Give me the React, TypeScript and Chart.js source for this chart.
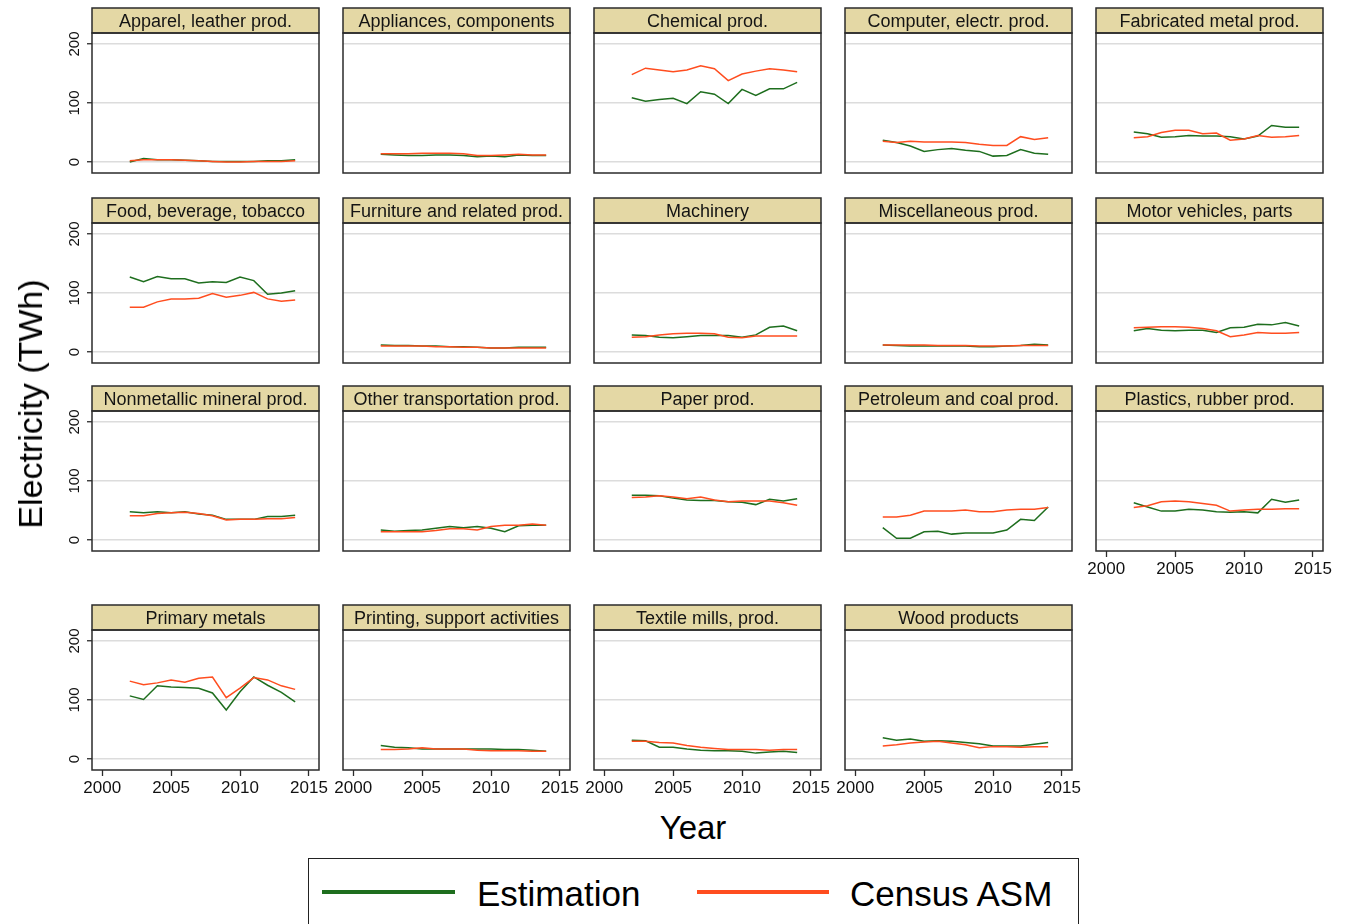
import React, { useEffect, useRef } from "react";
import { Chart, registerables } from "chart.js";

Chart.register(...registerables);

const FONT = '"Liberation Sans", Arial, Helvetica, sans-serif';
Chart.defaults.font.family = FONT;

const GREEN = "#1e6e1e";
const ORANGE = "#ff4d1f";
const STRIP = "#e4d8a5";
const FRAME = "#2b2b2b";

const years = [2002, 2003, 2004, 2005, 2006, 2007, 2008, 2009, 2010, 2011, 2012, 2013, 2014];
const yTicks = [0, 100, 200];
const xTicks = [2000, 2005, 2010, 2015];

// Electricity use by industry, TWh: model estimate vs. Census ASM
const apparelEst = [0, 6, 4, 4, 3, 2, 1, 1, 1, 1, 2, 2, 4];
const apparelAsm = [2, 4, 4, 4, 3, 2, 1, 0, 0, 1, 1, 1, 2];
const appliancesEst = [13, 12, 11, 11, 12, 12, 11, 9, 10, 9, 12, 11, 11];
const appliancesAsm = [14, 14, 14, 15, 15, 15, 14, 11, 11, 12, 13, 12, 12];
const chemicalEst = [109, 103, 106, 108, 99, 119, 115, 99, 123, 113, 124, 124, 135];
const chemicalAsm = [148, 159, 156, 153, 156, 163, 158, 138, 149, 154, 158, 156, 153];
const computerEst = [37, 33, 27, 18, 21, 23, 20, 18, 10, 11, 21, 15, 13];
const computerAsm = [35, 33, 35, 34, 34, 34, 33, 30, 28, 28, 43, 38, 41];
const fabricatedEst = [51, 48, 42, 43, 45, 44, 44, 43, 39, 44, 62, 59, 59];
const fabricatedAsm = [41, 43, 50, 54, 54, 48, 49, 37, 39, 45, 42, 43, 45];
const foodEst = [127, 119, 128, 124, 124, 117, 119, 118, 127, 121, 98, 100, 104];
const foodAsm = [76, 76, 85, 90, 90, 91, 99, 93, 96, 101, 90, 86, 88];
const furnitureEst = [12, 11, 11, 10, 10, 9, 9, 8, 7, 7, 8, 8, 8];
const furnitureAsm = [10, 10, 10, 10, 9, 9, 8, 8, 7, 7, 7, 7, 7];
const machineryEst = [29, 28, 25, 24, 26, 28, 28, 28, 25, 29, 42, 44, 36];
const machineryAsm = [25, 26, 29, 31, 32, 32, 31, 25, 24, 27, 27, 27, 27];
const miscEst = [12, 11, 10, 10, 10, 10, 10, 9, 9, 10, 11, 13, 12];
const miscAsm = [12, 12, 12, 12, 11, 11, 11, 10, 10, 10, 11, 11, 11];
const motorEst = [36, 40, 37, 36, 37, 37, 33, 41, 42, 47, 46, 50, 44];
const motorAsm = [41, 42, 43, 43, 42, 40, 36, 26, 29, 33, 32, 32, 33];
const nonmetallicEst = [48, 46, 48, 46, 48, 44, 42, 35, 35, 35, 40, 40, 42];
const nonmetallicAsm = [41, 41, 45, 46, 47, 45, 41, 34, 35, 35, 36, 36, 38];
const otherTransEst = [17, 15, 16, 17, 20, 23, 21, 23, 20, 14, 24, 25, 25];
const otherTransAsm = [14, 14, 14, 14, 16, 19, 19, 17, 23, 25, 25, 27, 25];
const paperEst = [76, 76, 75, 71, 68, 67, 67, 65, 64, 60, 69, 66, 70];
const paperAsm = [72, 73, 75, 73, 70, 73, 68, 65, 66, 66, 66, 63, 59];
const petroleumEst = [21, 3, 3, 14, 15, 10, 12, 12, 12, 17, 35, 33, 56];
const petroleumAsm = [39, 39, 42, 49, 49, 49, 51, 48, 48, 51, 52, 52, 55];
const plasticsEst = [63, 56, 49, 49, 52, 51, 48, 47, 48, 46, 69, 64, 68];
const plasticsAsm = [55, 58, 65, 66, 65, 62, 59, 49, 51, 52, 52, 53, 53];
const primaryEst = [107, 101, 124, 122, 121, 120, 112, 83, 114, 139, 125, 113, 97];
const primaryAsm = [132, 126, 129, 134, 130, 137, 139, 104, 120, 138, 134, 124, 118];
const printingEst = [23, 20, 19, 17, 17, 17, 17, 17, 17, 16, 16, 15, 13];
const printingAsm = [16, 16, 17, 19, 17, 17, 17, 15, 14, 14, 14, 13, 13];
const textileEst = [32, 31, 20, 20, 17, 15, 14, 14, 13, 10, 12, 13, 11];
const textileAsm = [30, 30, 28, 27, 23, 20, 18, 16, 16, 16, 15, 16, 16];
const woodEst = [36, 32, 34, 30, 31, 30, 28, 26, 22, 22, 22, 25, 28];
const woodAsm = [22, 24, 27, 29, 30, 27, 24, 19, 21, 21, 20, 21, 21];

const panels = [
  { title: "Apparel, leather prod.", est: apparelEst, asm: apparelAsm },
  { title: "Appliances, components", est: appliancesEst, asm: appliancesAsm },
  { title: "Chemical prod.", est: chemicalEst, asm: chemicalAsm },
  { title: "Computer, electr. prod.", est: computerEst, asm: computerAsm },
  { title: "Fabricated metal prod.", est: fabricatedEst, asm: fabricatedAsm },
  { title: "Food, beverage, tobacco", est: foodEst, asm: foodAsm },
  { title: "Furniture and related prod.", est: furnitureEst, asm: furnitureAsm },
  { title: "Machinery", est: machineryEst, asm: machineryAsm },
  { title: "Miscellaneous prod.", est: miscEst, asm: miscAsm },
  { title: "Motor vehicles, parts", est: motorEst, asm: motorAsm },
  { title: "Nonmetallic mineral prod.", est: nonmetallicEst, asm: nonmetallicAsm },
  { title: "Other transportation prod.", est: otherTransEst, asm: otherTransAsm },
  { title: "Paper prod.", est: paperEst, asm: paperAsm },
  { title: "Petroleum and coal prod.", est: petroleumEst, asm: petroleumAsm },
  { title: "Plastics, rubber prod.", est: plasticsEst, asm: plasticsAsm },
  { title: "Primary metals", est: primaryEst, asm: primaryAsm },
  { title: "Printing, support activities", est: printingEst, asm: printingAsm },
  { title: "Textile mills, prod.", est: textileEst, asm: textileAsm },
  { title: "Wood products", est: woodEst, asm: woodAsm },
];

// grid geometry of the small multiples
const COL_LEFT = [92, 343, 594, 845, 1096];
const ROW_TOP = [33, 223, 411, 630];
const BOX_W = 227;
const BOX_H = 140;
const STRIP_H = 25;
const Y_AXIS_W = 45;
const X_AXIS_H = 34;
const PAD_RIGHT = 30;

const panelFrame = {
  id: "panelFrame",
  afterDraw(chart: any, _args: any, opts: any) {
    const { ctx, chartArea: a } = chart;
    const w = a.right - a.left;
    ctx.save();
    ctx.fillStyle = STRIP;
    ctx.fillRect(a.left, a.top - STRIP_H, w, STRIP_H);
    ctx.strokeStyle = FRAME;
    ctx.lineWidth = 1.5;
    ctx.strokeRect(a.left, a.top - STRIP_H, w, STRIP_H);
    ctx.strokeRect(a.left, a.top, w, a.bottom - a.top);
    ctx.fillStyle = "#141414";
    ctx.font = `18px ${FONT}`;
    ctx.textAlign = "center";
    ctx.textBaseline = "alphabetic";
    ctx.fillText(opts.title, (a.left + a.right) / 2, a.top - 6.5);
    ctx.restore();
  },
};

type PanelProps = {
  title: string;
  est: number[];
  asm: number[];
  left: number;
  top: number;
  showY: boolean;
  showX: boolean;
};

function Panel({ title, est, asm, left, top, showY, showX }: PanelProps) {
  const ref = useRef<HTMLCanvasElement>(null);
  const width = Y_AXIS_W + BOX_W + PAD_RIGHT;
  const height = STRIP_H + 1 + BOX_H + X_AXIS_H;

  useEffect(() => {
    const chart = new Chart(ref.current as HTMLCanvasElement, {
      type: "line",
      data: {
        datasets: [
          {
            label: "Census ASM",
            data: years.map((x, i) => ({ x, y: asm[i] })),
            borderColor: ORANGE,
            borderWidth: 1.5,
            pointRadius: 0,
            tension: 0,
          },
          {
            label: "Estimation",
            data: years.map((x, i) => ({ x, y: est[i] })),
            borderColor: GREEN,
            borderWidth: 1.5,
            pointRadius: 0,
            tension: 0,
          },
        ],
      },
      options: {
        animation: false,
        responsive: false,
        events: [],
        layout: { padding: { top: STRIP_H + 1, right: PAD_RIGHT, left: 0, bottom: 0 } },
        plugins: {
          legend: { display: false },
          tooltip: { enabled: false },
          panelFrame: { title },
        } as any,
        scales: {
          x: {
            type: "linear",
            min: 1999.26,
            max: 2015.73,
            afterBuildTicks: (s: any) => {
              s.ticks = xTicks.map((value) => ({ value }));
            },
            afterFit: (s: any) => {
              s.height = X_AXIS_H;
            },
            border: { display: false },
            grid: {
              drawOnChartArea: false,
              drawTicks: showX,
              tickLength: 6,
              tickColor: FRAME,
              tickWidth: 1.3,
            },
            ticks: {
              display: showX,
              autoSkip: false,
              maxRotation: 0,
              padding: 2,
              color: "#111",
              font: { size: 17 },
              callback: (v: any) => String(v),
            },
          },
          y: {
            type: "linear",
            min: -18.6,
            max: 218.6,
            afterBuildTicks: (s: any) => {
              s.ticks = yTicks.map((value) => ({ value }));
            },
            afterFit: (s: any) => {
              s.width = Y_AXIS_W;
            },
            border: { display: false },
            grid: {
              color: "#dcdcdc",
              lineWidth: 1.5,
              drawTicks: showY,
              tickLength: 5,
              tickColor: FRAME,
              tickWidth: 1.3,
            },
            ticks: {
              display: showY,
              minRotation: 90,
              maxRotation: 90,
              crossAlign: "center",
              padding: 0,
              color: "#111",
              font: { size: 15 },
              callback: (v: any) => String(v),
            },
          },
        },
      },
      plugins: [panelFrame as any],
    });
    return () => chart.destroy();
  }, [title, est, asm, showX, showY]);

  return (
    <canvas
      ref={ref}
      width={width}
      height={height}
      style={{
        position: "absolute",
        left: left - Y_AXIS_W,
        top: top - STRIP_H - 1,
        width,
        height,
      }}
    />
  );
}

const textStyle: React.CSSProperties = {
  position: "absolute",
  fontFamily: FONT,
  color: "#000",
  whiteSpace: "nowrap",
  lineHeight: 1,
};

export default function App() {
  return (
    <div
      style={{
        position: "fixed",
        left: 0,
        top: 0,
        width: 1346,
        height: 924,
        overflow: "hidden",
        background: "#fff",
      }}
    >
      {panels.map((p, i) => {
        const row = Math.floor(i / 5);
        const col = i % 5;
        return (
          <Panel
            key={p.title}
            title={p.title}
            est={p.est}
            asm={p.asm}
            left={COL_LEFT[col]}
            top={ROW_TOP[row]}
            showY={col === 0}
            showX={row === 3 || (row === 2 && col === 4)}
          />
        );
      })}

      <div
        style={{
          ...textStyle,
          left: 30,
          top: 404,
          fontSize: 34,
          transform: "translate(-50%, -50%) rotate(-90deg)",
        }}
      >
        Electricity (TWh)
      </div>

      <div
        style={{
          ...textStyle,
          left: 693,
          top: 827,
          fontSize: 33,
          transform: "translate(-50%, -50%)",
        }}
      >
        Year
      </div>

      <div
        style={{
          position: "absolute",
          left: 308,
          top: 858,
          width: 771,
          height: 66,
          boxSizing: "border-box",
          border: "1.5px solid #222",
          borderBottom: "none",
          background: "#fff",
        }}
      />
      <div style={{ position: "absolute", left: 322, top: 890, width: 133, height: 4, background: GREEN }} />
      <div style={{ ...textStyle, left: 477, top: 893, fontSize: 35, transform: "translateY(-50%)" }}>
        Estimation
      </div>
      <div style={{ position: "absolute", left: 697, top: 890, width: 132, height: 4, background: ORANGE }} />
      <div style={{ ...textStyle, left: 850, top: 893, fontSize: 35, transform: "translateY(-50%)" }}>
        Census ASM
      </div>
    </div>
  );
}
